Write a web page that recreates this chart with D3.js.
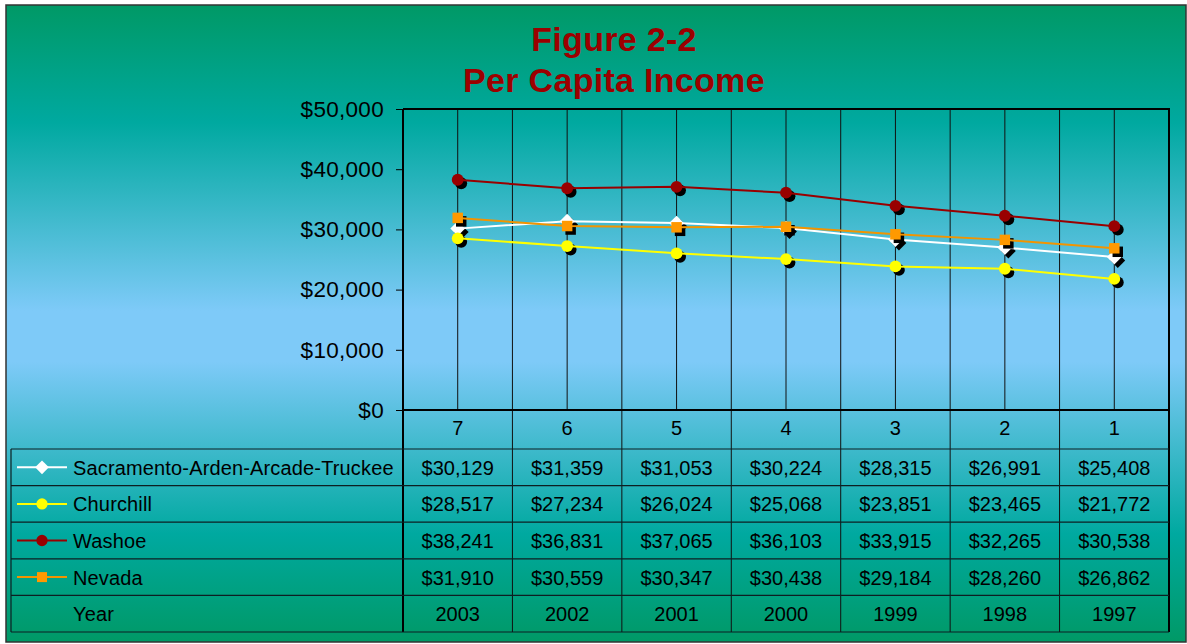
<!DOCTYPE html>
<html>
<head>
<meta charset="utf-8">
<script src="https://cdn.jsdelivr.net/npm/d3@7"></script>
<style>
    html, body { margin: 0; padding: 0; background: #fff; }
    svg { display: block; font-family: "Liberation Sans", Arial, sans-serif; }
</style>
</head>
<body>
<svg id="chart" width="1187" height="644"></svg>
<script>
let categories = ["7", "6", "5", "4", "3", "2", "1"];
let years = ["2003", "2002", "2001", "2000", "1999", "1998", "1997"];
let seriesNames = ["Sacramento-Arden-Arcade-Truckee", "Churchill", "Washoe", "Nevada"];
let sacramento = [30129, 31359, 31053, 30224, 28315, 26991, 25408];
let churchill = [28517, 27234, 26024, 25068, 23851, 23465, 21772];
let washoe = [38241, 36831, 37065, 36103, 33915, 32265, 30538];
let nevada = [31910, 30559, 30347, 30438, 29184, 28260, 26862];
let yTicks = [0, 10000, 20000, 30000, 40000, 50000];

let series = [
    {name: seriesNames[0], values: sacramento, color: "#ffffff", line: "#ffffff", shape: d3.symbolDiamond2},
    {name: seriesNames[1], values: churchill, color: "#ffff00", line: "#ffff00", shape: d3.symbolCircle},
    {name: seriesNames[2], values: washoe, color: "#990000", line: "#990000", shape: d3.symbolCircle},
    {name: seriesNames[3], values: nevada, color: "#ff9900", line: "#f29400", shape: d3.symbolSquare}
];

let svg = d3.select("#chart");
let plot = {left: 403, right: 1169, top: 109, bottom: 410};
let table = {left: 11, top: 449, bottom: 632};
let money = d3.format("$,");

// background gradient
let defs = svg.append("defs");
let grad = defs.append("linearGradient").attr("id", "bg")
    .attr("x1", 0).attr("y1", 0).attr("x2", 0).attr("y2", 1);
[[0, "#009966"], [0.185, "#00a9a0"], [0.48, "#7ecaf8"], [0.56, "#7ecaf8"], [0.83, "#00a9a0"], [1, "#009966"]]
    .forEach(s => grad.append("stop").attr("offset", s[0]).attr("stop-color", s[1]));

svg.append("rect")
    .attr("x", 6).attr("y", 5).attr("width", 1180).attr("height", 637)
    .style("fill", "url(#bg)")
    .style("stroke", "#333")
    .style("stroke-width", "1.5px");

let x = d3.scaleBand().domain(categories).range([plot.left, plot.right]).padding(0);
let y = d3.scaleLinear().domain([0, 50000]).range([plot.bottom, plot.top]);
let cx = (d) => x(d) + x.bandwidth() / 2;

// vertical grid lines at category centres and boundaries
let grid = svg.append("g").attr("class", "grid");
grid.selectAll(".center").data(categories).enter().append("line")
    .attr("x1", cx).attr("x2", cx)
    .attr("y1", plot.top).attr("y2", plot.bottom)
    .style("stroke", "#111").style("stroke-width", "1px");
grid.selectAll(".bound").data(categories.slice(1)).enter().append("line")
    .attr("x1", (d) => x(d)).attr("x2", (d) => x(d))
    .attr("y1", plot.top).attr("y2", table.bottom)
    .style("stroke", "#111").style("stroke-width", "1px");

// plot frame
svg.append("path")
    .attr("d", `M${plot.left},${plot.top}H${plot.right}V${table.bottom}`)
    .style("fill", "none").style("stroke", "#000").style("stroke-width", "2px");

// y axis
let yAxis = svg.append("g")
    .attr("transform", `translate(${plot.left},0)`)
    .call(d3.axisLeft(y).tickValues(yTicks).tickFormat(money).tickSize(7).tickPadding(12));
yAxis.select(".domain").remove();
yAxis.append("line")
    .attr("x1", 0).attr("x2", 0).attr("y1", plot.top).attr("y2", table.bottom)
    .style("stroke", "#000").style("stroke-width", "2px");
yAxis.selectAll(".tick line").style("stroke", "#000");
yAxis.selectAll("text")
    .style("font-size", "22.5px")
    .style("letter-spacing", "0.3px")
    .style("font-family", "'Liberation Sans', Arial, sans-serif")
    .style("fill", "#000");

// baseline
svg.append("line")
    .attr("x1", plot.left).attr("x2", plot.right)
    .attr("y1", y(0)).attr("y2", y(0))
    .style("stroke", "#000").style("stroke-width", "2px");

// category labels
svg.selectAll(".catLabel").data(categories).enter().append("text")
    .attr("class", "catLabel")
    .attr("x", cx).attr("y", 435)
    .attr("text-anchor", "middle")
    .style("font-size", "20px")
    .text((d) => d);

// data table
let rowNames = seriesNames.concat(["Year"]);
let rows = d3.scaleBand().domain(rowNames).range([table.top, table.bottom]);
let tbl = svg.append("g").attr("class", "table");

tbl.selectAll(".hline").data(rowNames.map((d) => rows(d)).concat([table.bottom])).enter().append("line")
    .attr("x1", table.left).attr("x2", plot.right)
    .attr("y1", (d) => d).attr("y2", (d) => d)
    .style("stroke", "#0d1f22").style("stroke-width", "1.2px");
tbl.append("line")
    .attr("x1", table.left).attr("x2", table.left)
    .attr("y1", table.top).attr("y2", table.bottom)
    .style("stroke", "#0d1f22").style("stroke-width", "1.2px");

let rowData = series.map((s) => s.values.map(money)).concat([years]);
rowNames.forEach((name, r) => {
    let mid = rows(name) + rows.bandwidth() / 2;
    tbl.selectAll(".cell" + r).data(rowData[r]).enter().append("text")
        .attr("x", (d, i) => cx(categories[i]))
        .attr("y", mid + 7.5)
        .attr("text-anchor", "middle")
        .style("font-size", "20px")
        .text((d) => d);
    tbl.append("text")
        .attr("x", 73).attr("y", mid + 7.5)
        .style("font-size", "20px")
        .style("letter-spacing", "0.15px")
        .text(name);
});

// legend keys
series.forEach((s) => {
    let mid = rows(s.name) + rows.bandwidth() / 2;
    tbl.append("line")
        .attr("x1", 17).attr("x2", 67).attr("y1", mid).attr("y2", mid)
        .style("stroke", s.line).style("stroke-width", "2px");
    tbl.append("path")
        .attr("d", d3.symbol().type(s.shape).size(s.shape === d3.symbolDiamond2 ? 120 : 100)())
        .attr("transform", `translate(42,${mid})`)
        .style("fill", s.color);
});

// series
let line = d3.line().x((d, i) => cx(categories[i])).y((d) => y(d));
series.forEach((s) => {
    let g = svg.append("g").attr("class", "series");
    let sym = d3.symbol().type(s.shape).size(s.shape === d3.symbolDiamond2 ? 140 : 110);
    g.selectAll(".shadow").data(s.values).enter().append("path")
        .attr("d", sym())
        .attr("transform", (d, i) => `translate(${cx(categories[i]) + 3.5},${y(d) + 3.5})`)
        .style("fill", "#000");
    g.append("path")
        .datum(s.values)
        .attr("d", line)
        .style("fill", "none")
        .style("stroke", s.line)
        .style("stroke-width", "2px");
    g.selectAll(".marker").data(s.values).enter().append("path")
        .attr("d", sym())
        .attr("transform", (d, i) => `translate(${cx(categories[i])},${y(d)})`)
        .style("fill", s.color);
});

// title
let title = svg.append("g")
    .attr("text-anchor", "middle")
    .style("font-weight", "bold")
    .style("font-size", "34px")
    .style("letter-spacing", "0.3px")
    .style("fill", "#9c0000");
title.append("text").attr("x", 614).attr("y", 51).text("Figure 2-2");
title.append("text").attr("x", 614).attr("y", 92).text("Per Capita Income");
</script>
</body>
</html>
